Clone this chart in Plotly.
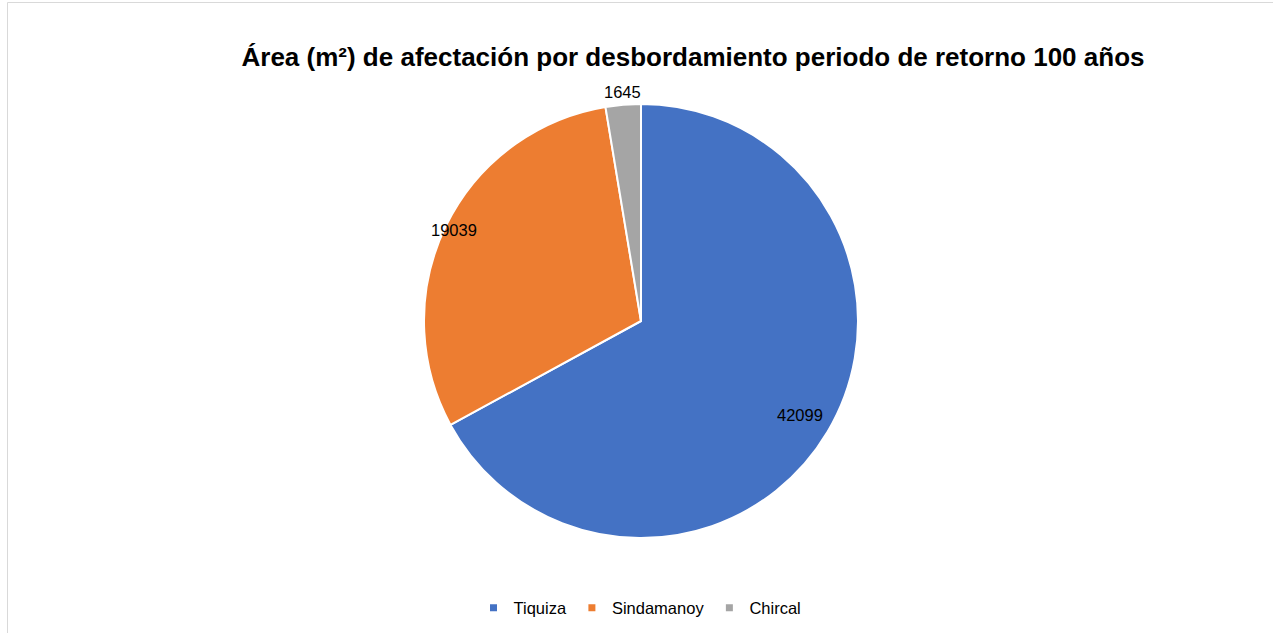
import math
import plotly.graph_objects as go

categories = ["Tiquiza", "Sindamanoy", "Chircal"]
values = [42099, 19039, 1645]
colors = ["#4472C4", "#ED7D31", "#A5A5A5"]
title_text = "Área (m²) de afectación por desbordamiento periodo de retorno 100 años"

W, H = 1273, 633
cx, cy, r = 641, 321, 217
label_radius = [0.85, 0.96, 1.06]  # label distance from centre, as fraction of radius
FONT = "Liberation Sans, Arial, sans-serif"

fig = go.Figure()
fig.add_trace(go.Pie(
    labels=categories,
    values=values,
    textinfo="none",
    marker=dict(colors=colors, line=dict(color="#FFFFFF", width=2)),
    sort=False,
    direction="clockwise",
    rotation=0,
    showlegend=False,
    hoverinfo="label+value+percent",
    domain=dict(x=[(cx - r) / W, (cx + r) / W], y=[(H - cy - r) / H, (H - cy + r) / H]),
))

# data labels placed along each slice's mid-angle
total = sum(values)
cum = 0.0
for v, rf in zip(values, label_radius):
    mid = (cum + v / 2) / total * 2 * math.pi
    cum += v
    px = cx + rf * r * math.sin(mid)
    py = cy - rf * r * math.cos(mid)
    fig.add_annotation(x=px / W, y=(H - py) / H, xref="paper", yref="paper",
                       text=str(v), showarrow=False, xanchor="center", yanchor="middle",
                       font=dict(family=FONT, size=16.5, color="#000000"))

for name, col in zip(categories, colors):
    fig.add_trace(go.Scatter(
        x=[None], y=[None], mode="markers", name=name,
        marker=dict(symbol="square", size=7, color=col),
        showlegend=True, hoverinfo="skip",
    ))

fig.add_shape(type="rect", xref="paper", yref="paper",
              x0=7.5 / W, x1=1.02, y0=-0.02, y1=1 - 2.5 / H,
              line=dict(color="#D9D9D9", width=1), fillcolor="rgba(0,0,0,0)", layer="below")

fig.update_layout(
    width=W, height=H,
    margin=dict(l=0, r=0, t=0, b=0),
    paper_bgcolor="#FFFFFF", plot_bgcolor="#FFFFFF",
    font=dict(family=FONT, color="#000000"),
    title=dict(text="<b>" + title_text + "</b>", x=693 / W, xanchor="center",
               y=1 - 57 / H, yanchor="middle",
               font=dict(size=26, color="#000000", family=FONT)),
    xaxis=dict(visible=False), yaxis=dict(visible=False),
    legend=dict(orientation="h", x=640 / W, xanchor="center", y=(H - 608) / H, yanchor="middle",
                font=dict(size=16.5, color="#000000"), itemsizing="trace",
                traceorder="normal", itemwidth=30, bgcolor="rgba(0,0,0,0)"),
)

fig.write_html("out.html", config={"displayModeBar": False},
               post_script="document.body.style.margin='0';")
